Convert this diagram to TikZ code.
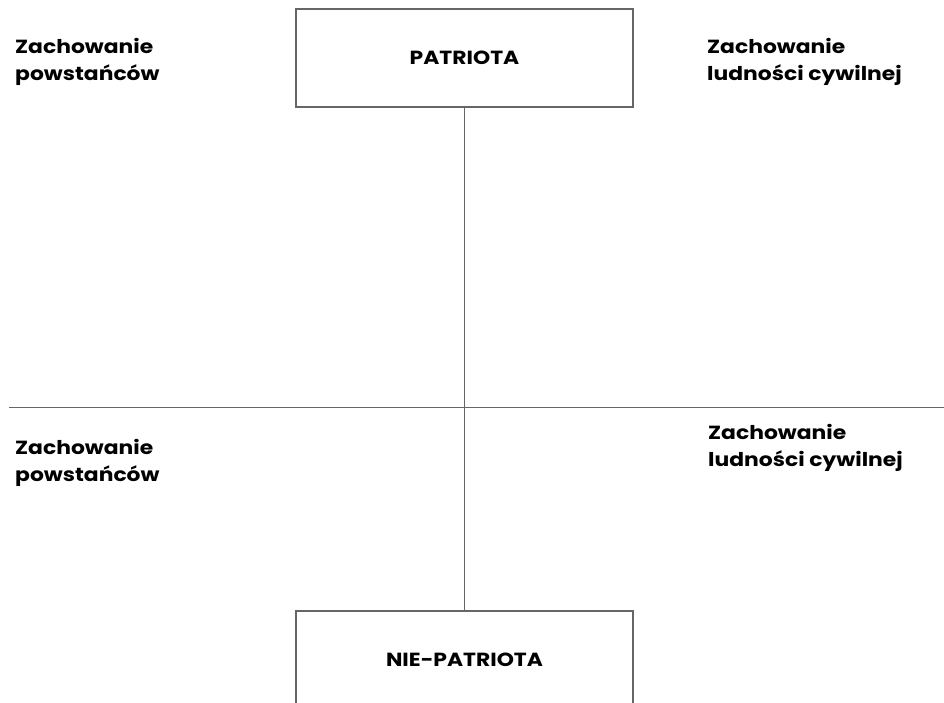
\documentclass[tikz,border=0pt]{standalone}
\usepackage{fontspec}
\setmainfont{Poppins}[BoldFont={Poppins Bold}, BoldFeatures={FakeStretch=1.15}]
\tikzset{
  x=1pt, y=1pt,
  lbl/.style={anchor=north west, inner sep=0pt, align=left, font=\fontsize{19}{27}\selectfont\bfseries},
  boxnode/.style={draw=black!60, line width=1.1pt, minimum width=337pt, minimum height=98pt, inner sep=0pt, font=\fontsize{19}{20}\selectfont\bfseries},
  axis/.style={draw=black!60, line width=1.2pt}
}
\begin{document}
\begin{tikzpicture}
\useasboundingbox (0,0) rectangle (944,702);
\clip (0,0) rectangle (944,702);
\node[boxnode] (pat) at (464.5,644) {PATRIOTA};
\node[boxnode] (nie) at (464.5,42) {NIE-PATRIOTA};
\coordinate (hl) at (9,294.3);
\coordinate (hr) at (944,294.3);
\draw[axis] (pat.south) -- (nie.north);
\draw[axis] (hl) -- (hr);
\node[lbl] (tl) at (15,664) {Zachowanie\\powstańców};
\node[lbl] (tr) at (707,664) {Zachowanie\\ludności cywilnej};
\node[lbl] (bl) at (15,263) {Zachowanie\\powstańców};
\node[lbl] (br) at (708,278) {Zachowanie\\ludności cywilnej};
\end{tikzpicture}
\end{document}
